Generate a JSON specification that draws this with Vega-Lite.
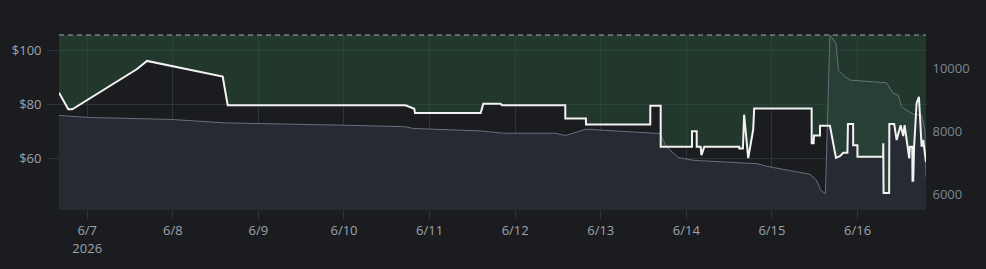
{
  "$schema": "https://vega.github.io/schema/vega-lite/v6.json",
  "width": 867,
  "height": 175,
  "padding": {"left": 0, "top": 33, "right": 0, "bottom": 0},
  "autosize": {"type": "pad"},
  "background": "#1a1c20",
  "config": {"view": {"stroke": null}, "font": "Open Sans", "axis": {"labelFont": "Open Sans", "labelFontSize": 13}},
  "datasets": {
    "price": [
      {"t": "2026-06-06T16:14", "p": 84.2},
      {"t": "2026-06-06T18:50", "p": 78.1},
      {"t": "2026-06-06T19:58", "p": 78.1},
      {"t": "2026-06-07T14:01", "p": 92.9},
      {"t": "2026-06-07T16:55", "p": 96.0},
      {"t": "2026-06-08T14:08", "p": 90.2},
      {"t": "2026-06-08T15:32", "p": 79.6},
      {"t": "2026-06-10T17:23", "p": 79.6},
      {"t": "2026-06-10T19:51", "p": 78.3},
      {"t": "2026-06-10T20:03", "p": 76.7},
      {"t": "2026-06-11T14:28", "p": 76.7},
      {"t": "2026-06-11T15:12", "p": 80.1},
      {"t": "2026-06-11T20:04", "p": 80.1},
      {"t": "2026-06-11T20:26", "p": 79.6},
      {"t": "2026-06-12T14:11", "p": 79.6},
      {"t": "2026-06-12T14:12", "p": 74.7},
      {"t": "2026-06-12T19:59", "p": 74.7},
      {"t": "2026-06-12T20:00", "p": 72.5},
      {"t": "2026-06-13T14:01", "p": 72.5},
      {"t": "2026-06-13T14:02", "p": 79.4},
      {"t": "2026-06-13T16:56", "p": 79.4},
      {"t": "2026-06-13T16:57", "p": 64.2},
      {"t": "2026-06-14T01:43", "p": 64.2},
      {"t": "2026-06-14T01:44", "p": 70.0},
      {"t": "2026-06-14T03:02", "p": 70.0},
      {"t": "2026-06-14T03:03", "p": 64.2},
      {"t": "2026-06-14T04:09", "p": 64.2},
      {"t": "2026-06-14T04:22", "p": 61.1},
      {"t": "2026-06-14T05:10", "p": 64.2},
      {"t": "2026-06-14T14:58", "p": 64.2},
      {"t": "2026-06-14T15:00", "p": 63.6},
      {"t": "2026-06-14T16:00", "p": 63.6},
      {"t": "2026-06-14T16:20", "p": 76.1},
      {"t": "2026-06-14T17:29", "p": 60.0},
      {"t": "2026-06-14T18:53", "p": 70.6},
      {"t": "2026-06-14T19:09", "p": 78.4},
      {"t": "2026-06-15T11:16", "p": 78.4},
      {"t": "2026-06-15T11:17", "p": 65.5},
      {"t": "2026-06-15T11:50", "p": 65.5},
      {"t": "2026-06-15T11:55", "p": 68.4},
      {"t": "2026-06-15T13:36", "p": 68.4},
      {"t": "2026-06-15T13:37", "p": 72.0},
      {"t": "2026-06-15T16:24", "p": 72.0},
      {"t": "2026-06-15T18:05", "p": 60.1},
      {"t": "2026-06-15T19:12", "p": 60.7},
      {"t": "2026-06-15T20:08", "p": 62.0},
      {"t": "2026-06-15T21:18", "p": 62.0},
      {"t": "2026-06-15T21:27", "p": 72.6},
      {"t": "2026-06-15T22:54", "p": 72.6},
      {"t": "2026-06-15T22:55", "p": 64.8},
      {"t": "2026-06-16T00:06", "p": 64.8},
      {"t": "2026-06-16T00:07", "p": 60.5},
      {"t": "2026-06-16T07:18", "p": 60.5},
      {"t": "2026-06-16T07:21", "p": 65.5},
      {"t": "2026-06-16T07:26", "p": 47.1},
      {"t": "2026-06-16T09:00", "p": 47.1},
      {"t": "2026-06-16T09:03", "p": 72.6},
      {"t": "2026-06-16T10:25", "p": 72.6},
      {"t": "2026-06-16T11:06", "p": 66.7},
      {"t": "2026-06-16T12:13", "p": 72.2},
      {"t": "2026-06-16T12:57", "p": 68.2},
      {"t": "2026-06-16T13:20", "p": 72.2},
      {"t": "2026-06-16T14:38", "p": 59.9},
      {"t": "2026-06-16T14:49", "p": 64.2},
      {"t": "2026-06-16T15:28", "p": 64.2},
      {"t": "2026-06-16T15:33", "p": 51.6},
      {"t": "2026-06-16T15:45", "p": 51.6},
      {"t": "2026-06-16T16:00", "p": 64.2},
      {"t": "2026-06-16T16:42", "p": 80.3},
      {"t": "2026-06-16T17:21", "p": 82.7},
      {"t": "2026-06-16T18:06", "p": 64.2},
      {"t": "2026-06-16T18:33", "p": 66.7},
      {"t": "2026-06-16T19:19", "p": 58.6}
    ],
    "vol": [
      {"t": "2026-06-06T16:14", "v": 8509},
      {"t": "2026-06-07T00:27", "v": 8445},
      {"t": "2026-06-07T23:50", "v": 8381},
      {"t": "2026-06-08T14:47", "v": 8272},
      {"t": "2026-06-09T23:56", "v": 8198},
      {"t": "2026-06-10T17:12", "v": 8150},
      {"t": "2026-06-10T19:34", "v": 8093},
      {"t": "2026-06-11T14:16", "v": 8016},
      {"t": "2026-06-11T20:48", "v": 7942},
      {"t": "2026-06-12T11:18", "v": 7942},
      {"t": "2026-06-12T14:18", "v": 7869},
      {"t": "2026-06-12T19:59", "v": 8070},
      {"t": "2026-06-13T16:44", "v": 7933},
      {"t": "2026-06-13T18:36", "v": 7504},
      {"t": "2026-06-13T21:52", "v": 7165},
      {"t": "2026-06-14T02:04", "v": 7078},
      {"t": "2026-06-14T12:24", "v": 7014},
      {"t": "2026-06-14T17:02", "v": 6985},
      {"t": "2026-06-14T19:51", "v": 6973},
      {"t": "2026-06-14T22:39", "v": 6886},
      {"t": "2026-06-15T10:48", "v": 6630},
      {"t": "2026-06-15T12:40", "v": 6438},
      {"t": "2026-06-15T13:48", "v": 6118},
      {"t": "2026-06-15T15:08", "v": 6013},
      {"t": "2026-06-15T16:24", "v": 11078},
      {"t": "2026-06-15T18:05", "v": 10813},
      {"t": "2026-06-15T18:47", "v": 9958},
      {"t": "2026-06-15T20:36", "v": 9744},
      {"t": "2026-06-15T22:00", "v": 9638},
      {"t": "2026-06-16T08:18", "v": 9552},
      {"t": "2026-06-16T10:09", "v": 9213},
      {"t": "2026-06-16T11:33", "v": 9158},
      {"t": "2026-06-16T12:30", "v": 8784},
      {"t": "2026-06-16T13:54", "v": 8678},
      {"t": "2026-06-16T15:45", "v": 8550},
      {"t": "2026-06-16T18:06", "v": 8518},
      {"t": "2026-06-16T19:02", "v": 8038},
      {"t": "2026-06-16T19:19", "v": 6544}
    ]
  },
  "encoding": {
    "x": {"field": "t", "type": "temporal",
      "scale": {"domain": [{"year": 2026, "month": 6, "date": 6, "hours": 16, "minutes": 14}, {"year": 2026, "month": 6, "date": 16, "hours": 19, "minutes": 20}]},
      "axis": {
        "values": [
          {"year": 2026, "month": 6, "date": 7}, {"year": 2026, "month": 6, "date": 8}, {"year": 2026, "month": 6, "date": 9},
          {"year": 2026, "month": 6, "date": 10}, {"year": 2026, "month": 6, "date": 11}, {"year": 2026, "month": 6, "date": 12},
          {"year": 2026, "month": 6, "date": 13}, {"year": 2026, "month": 6, "date": 14}, {"year": 2026, "month": 6, "date": 15},
          {"year": 2026, "month": 6, "date": 16}
        ],
        "labelExpr": "date(datum.value) == 7 ? [timeFormat(datum.value, '%-m/%-d'), '2026'] : timeFormat(datum.value, '%-m/%-d')",
        "grid": true, "gridColor": "#2e3339", "tickColor": "#2e3339", "tickSize": 9, "domain": false,
        "labelColor": "#9ea3aa", "labelFontSize": 13, "labelPadding": 5, "labelLineHeight": 18,
        "labelFlush": false, "labelOverlap": false, "title": null, "minExtent": 61, "maxExtent": 61
      }
    }
  },
  "resolve": {"scale": {"y": "independent"}},
  "layer": [
    {
      "data": {"name": "vol"},
      "mark": {"type": "area", "color": "#262a33", "opacity": 1, "clip": true},
      "encoding": {
        "y": {"field": "v", "type": "quantitative", "scale": {"domain": [5490, 11078], "zero": false, "nice": false}, "axis": null},
        "y2": {"datum": 5490}
      }
    },
    {
      "data": {"name": "price"},
      "mark": {"type": "area", "color": "#2a5439", "opacity": 0.5, "clip": true},
      "encoding": {
        "y": {"field": "p", "type": "quantitative", "scale": {"domain": [40.8, 105.6], "zero": false, "nice": false}, "axis": null},
        "y2": {"datum": 105.6}
      }
    },
    {
      "data": {"name": "vol"},
      "mark": {"type": "line", "color": "#67707b", "strokeWidth": 1, "clip": true},
      "encoding": {
        "y": {"field": "v", "type": "quantitative", "scale": {"domain": [5490, 11078], "zero": false, "nice": false},
          "axis": {"orient": "right", "values": [6000, 8000, 10000], "format": "d", "grid": false, "ticks": false, "domain": false, "labelPadding": 6, "labelColor": "#7f8690", "labelFontSize": 13, "title": null, "minExtent": 60, "maxExtent": 60}}
      }
    },
    {
      "data": {"name": "price"},
      "mark": {"type": "line", "color": "#a3abb0", "strokeDash": [5, 4], "strokeWidth": 1},
      "encoding": {
        "y": {"datum": 105.6, "type": "quantitative", "scale": {"domain": [40.8, 105.6], "zero": false, "nice": false}, "axis": null}
      }
    },
    {
      "data": {"name": "price"},
      "mark": {"type": "line", "color": "#f2f2f2", "strokeWidth": 2, "clip": true},
      "encoding": {
        "y": {"field": "p", "type": "quantitative", "scale": {"domain": [40.8, 105.6], "zero": false, "nice": false},
          "axis": {"orient": "left", "values": [60, 80, 100], "format": "$.0f", "grid": true, "gridColor": "#2e3339", "tickColor": "#2e3339", "tickSize": 12, "domain": false, "labelPadding": 6, "labelColor": "#9ea3aa", "labelFontSize": 13, "title": null, "minExtent": 59, "maxExtent": 59}}
      }
    }
  ]
}
